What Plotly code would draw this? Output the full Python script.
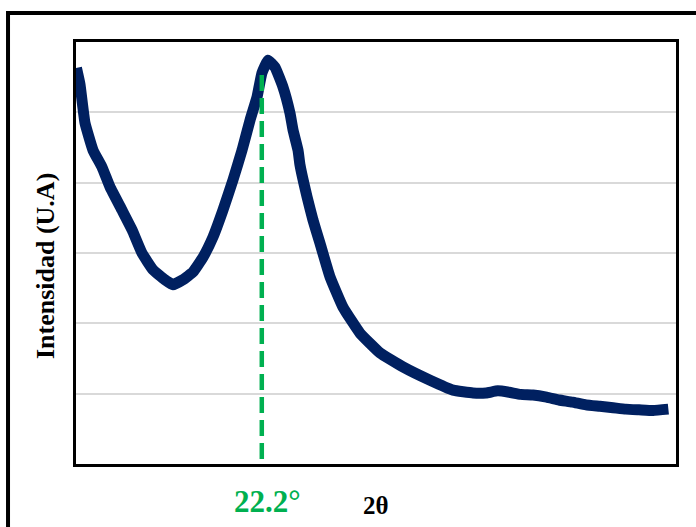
import plotly.graph_objects as go

# 2θ (degrees) and intensity (arbitrary units)
two_theta = [10.03, 10.26, 10.59, 11.12, 11.71, 12.23, 13.02, 13.68, 14.33, 15.06,
             15.84, 16.37, 17.02, 17.68, 18.34, 19.00, 19.65, 20.31, 20.90, 21.43,
             21.89, 22.21, 22.61, 23.07, 23.59, 24.05, 24.25, 24.58, 24.71, 25.17,
             25.56, 26.02, 26.68, 27.53, 28.65, 29.96, 31.47, 33.25, 34.76, 36.07,
             36.92, 37.70, 38.44, 39.20, 40.01, 40.90, 41.72, 42.60, 43.49, 44.40,
             45.27, 46.10, 46.97, 47.90, 48.90]
intensity = [5.63, 5.40, 4.85, 4.46, 4.22, 3.94, 3.61, 3.33, 3.00, 2.76,
             2.62, 2.55, 2.62, 2.73, 2.94, 3.23, 3.61, 4.04, 4.46, 4.89,
             5.22, 5.56, 5.74, 5.64, 5.36, 4.99, 4.75, 4.46, 4.25, 3.80,
             3.47, 3.14, 2.66, 2.23, 1.86, 1.58, 1.38, 1.19, 1.05, 1.01,
             1.01, 1.04, 1.02, 0.99, 0.98, 0.95, 0.91, 0.88, 0.84, 0.82,
             0.80, 0.78, 0.77, 0.76, 0.78]

peak_position = 22.2
peak_label = "22.2°"
x_title = "2θ"
y_title = "Intensidad (U.A)"

fig = go.Figure()
fig.add_trace(go.Scatter(
    x=two_theta, y=intensity, mode="lines",
    line=dict(color="#002060", width=11, shape="spline", smoothing=0.35),
    showlegend=False, hoverinfo="skip"))

fig.add_shape(type="line", xref="x", yref="y",
              x0=peak_position, x1=peak_position, y0=0.07, y1=5.63,
              line=dict(color="#00B050", width=4.5, dash="16px,7px"),
              layer="above")

# outer frame (extends beyond the visible page on right and bottom)
fig.add_shape(type="rect", xref="paper", yref="paper",
              x0=-0.1133, x1=1.07, y0=-0.2, y1=1.0687,
              line=dict(color="black", width=4), fillcolor="rgba(0,0,0,0)",
              layer="above")

serif = "Liberation Serif, Times New Roman, serif"
fig.add_annotation(text="<b>" + peak_label + "</b>", xref="paper", yref="paper",
                   x=0.319, y=-0.088, xanchor="center", yanchor="middle",
                   showarrow=False, font=dict(family=serif, size=31, color="#00B050"))
fig.add_annotation(text="<b>" + x_title + "</b>", xref="paper", yref="paper",
                   x=0.5, y=-0.098, xanchor="center", yanchor="middle",
                   showarrow=False, font=dict(family=serif, size=25, color="black"))
fig.add_annotation(text="<b>" + y_title + "</b>", xref="paper", yref="paper",
                   x=-0.0517, y=0.469, xanchor="center", yanchor="middle",
                   textangle=-90, showarrow=False,
                   font=dict(family=serif, size=26, color="black"))

fig.update_xaxes(range=[10, 49.4], showticklabels=False, ticks="", showgrid=False,
                 zeroline=False, showline=True, linecolor="black", linewidth=3,
                 mirror=True)
fig.update_yaxes(range=[0, 6], dtick=1, showticklabels=False, ticks="",
                 showgrid=True, gridcolor="#D9D9D9", gridwidth=2,
                 zeroline=False, showline=True, linecolor="black", linewidth=3,
                 mirror=True)

fig.update_layout(width=696, height=527,
                  margin=dict(l=76, r=20, t=42, b=63),
                  paper_bgcolor="white", plot_bgcolor="white")

fig.write_html("out.html", config={"displayModeBar": False},
               post_script="document.body.style.margin='0px';"
                           "document.body.style.overflow='hidden';")
